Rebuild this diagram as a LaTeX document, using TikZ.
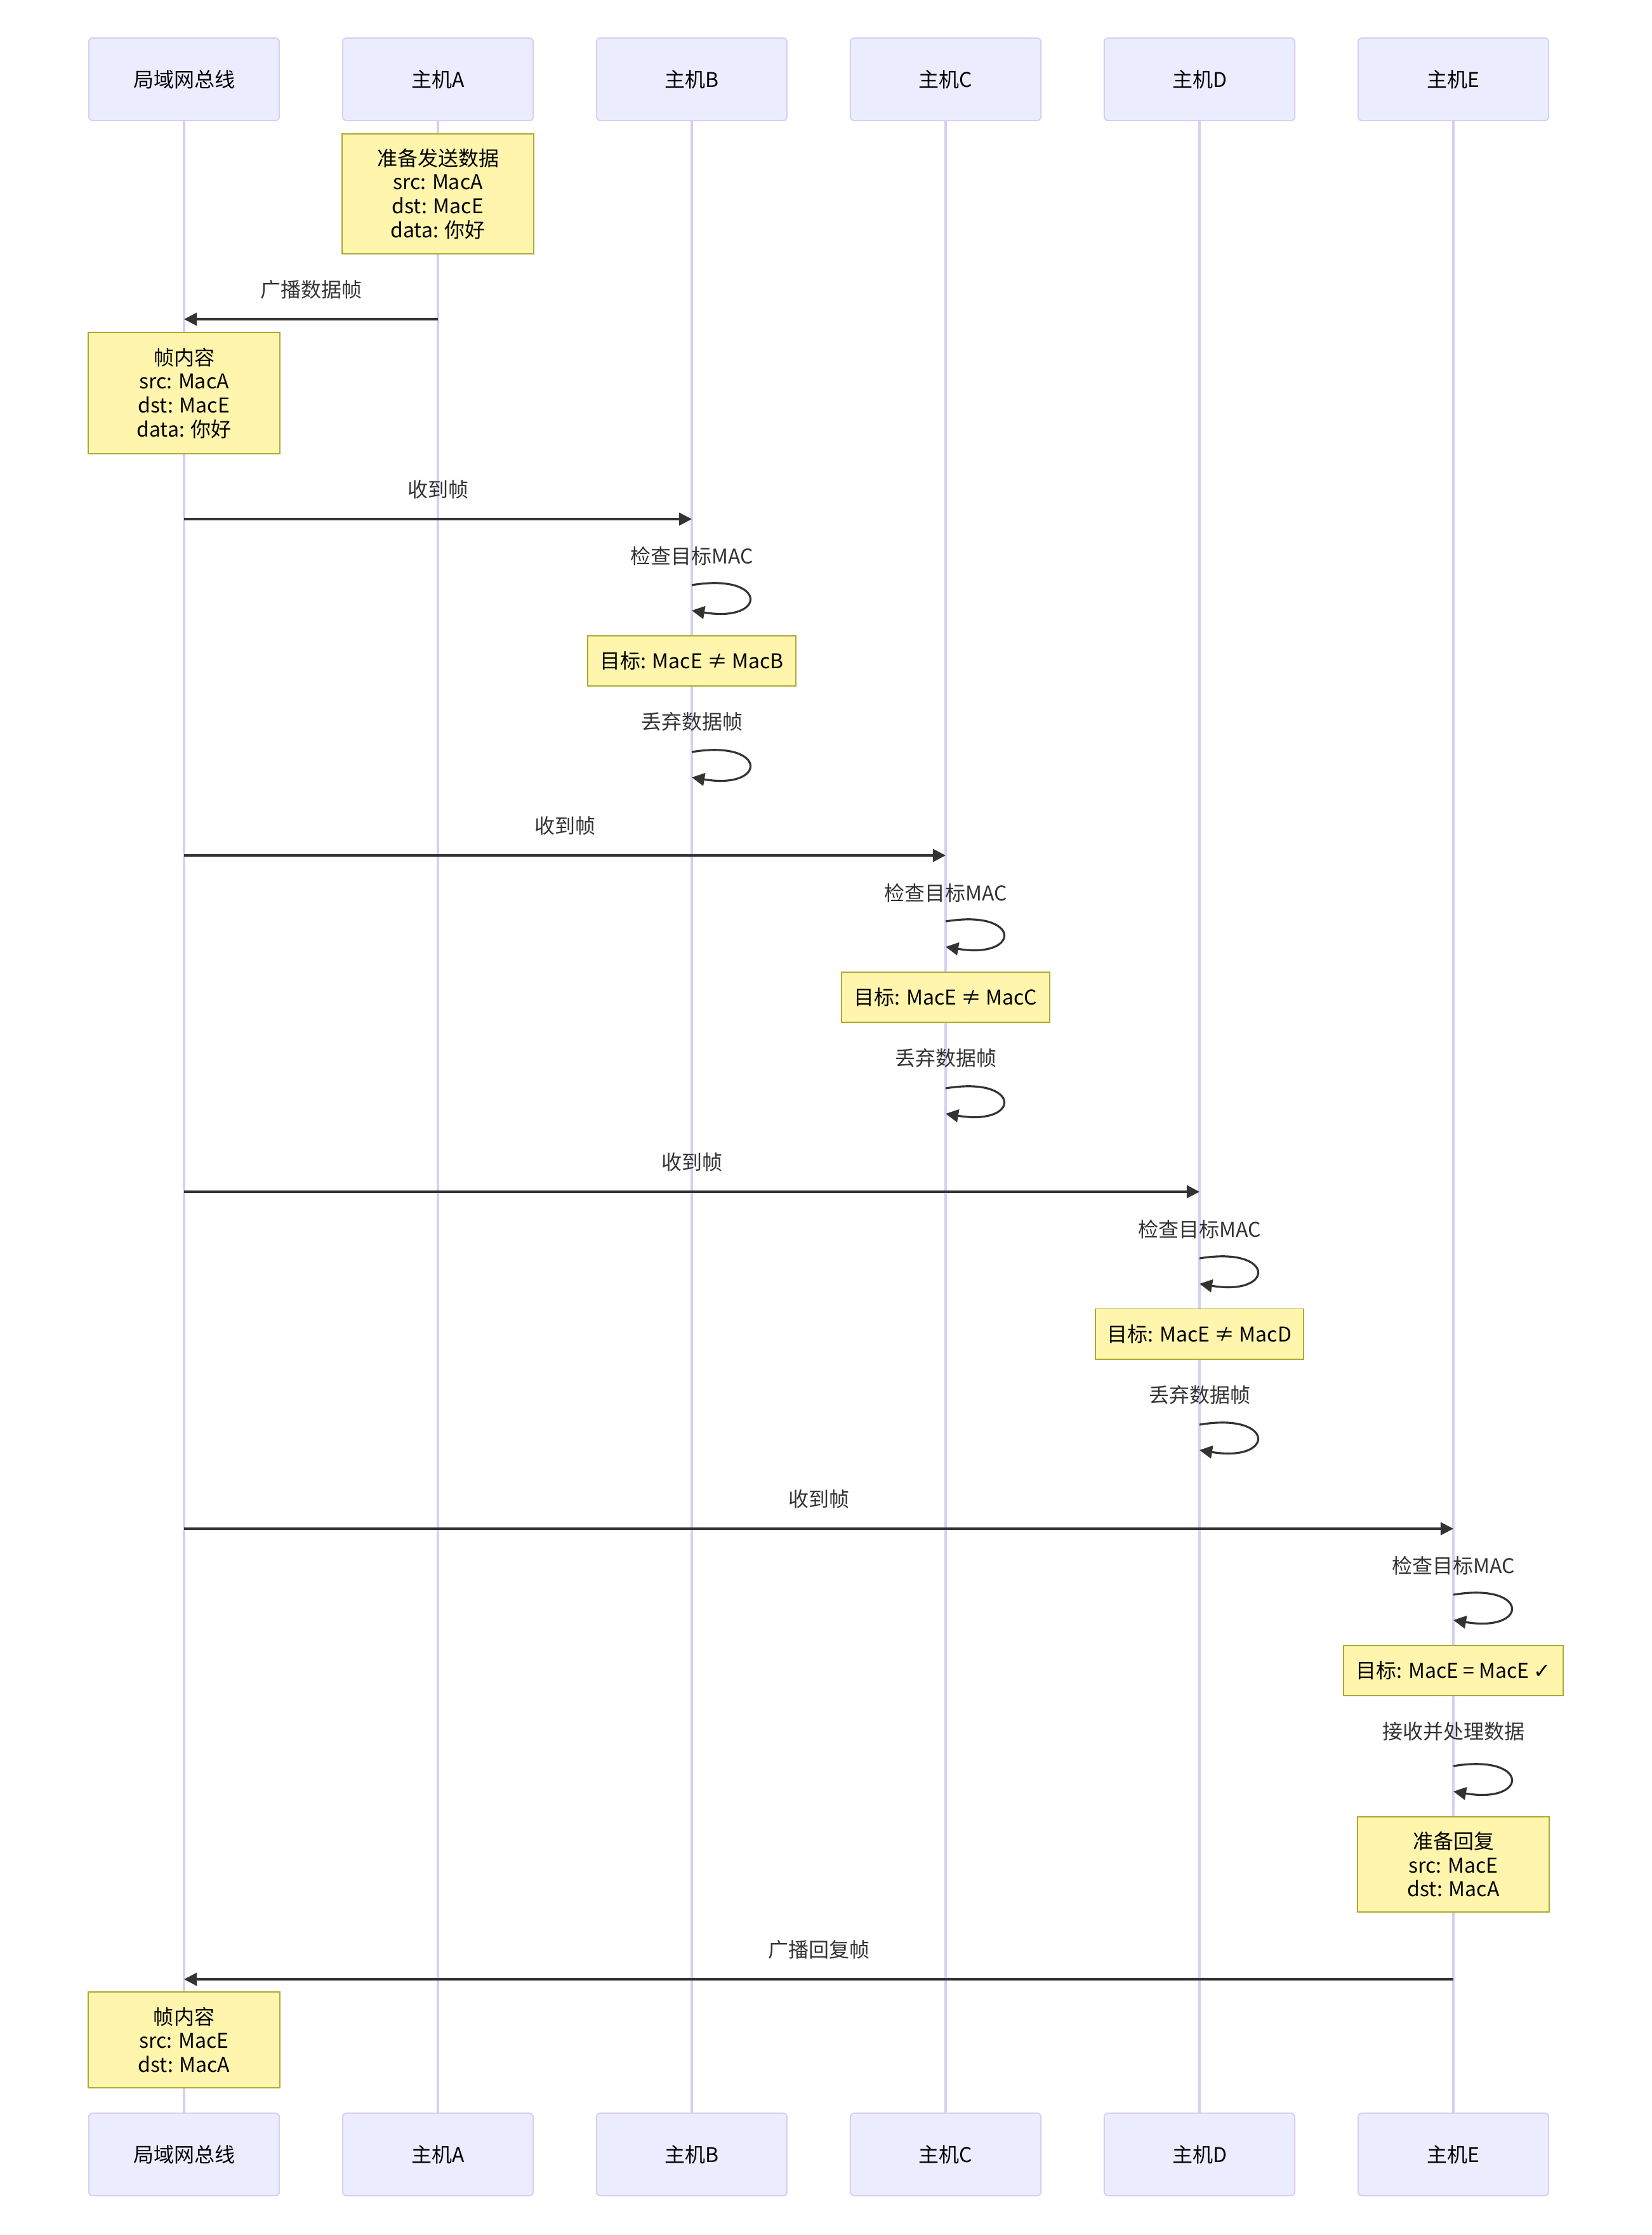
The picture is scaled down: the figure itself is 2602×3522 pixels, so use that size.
\documentclass[tikz,border=0pt]{standalone}
\usepackage{fontspec}
\setmainfont{Noto Sans CJK SC}
\newfontfamily\symfont{DejaVu Sans}
\usetikzlibrary{arrows.meta,calc}

\definecolor{actorfill}{HTML}{ECECFF}
\definecolor{actorline}{HTML}{D8CEF2}
\definecolor{notefill}{HTML}{FFF5AD}
\definecolor{noteline}{HTML}{AAAA33}
\definecolor{msgline}{HTML}{333333}
\newcommand{\dgfont}{\fontsize{9.1pt}{10.7pt}\selectfont}

\begin{document}
\begin{tikzpicture}[x=0.01cm,y=-0.01cm,
  actor/.style={draw=actorline,fill=actorfill,line width=0.55pt,rounded corners=1.7pt,
    minimum width=3cm,minimum height=1.3cm,inner sep=0pt,font=\dgfont},
  life/.style={draw=actorline,line width=0.9pt},
  note/.style={draw=noteline,fill=notefill,line width=0.55pt,inner sep=0pt,align=center,font=\dgfont},
  msg/.style={draw=msgline,line width=0.9pt,-{Triangle[length=5.7pt,width=5.7pt]}},
  msgtxt/.style={inner sep=0pt,text=msgline,font=\dgfont}]
  \useasboundingbox (0,0) rectangle (2602,3522);
  % 参与者（上）
  \node[actor] (busTop) at (290,125) {局域网总线};
  \node[actor] (aTop) at (690,125) {主机A};
  \node[actor] (bTop) at (1090,125) {主机B};
  \node[actor] (cTop) at (1490,125) {主机C};
  \node[actor] (dTop) at (1890,125) {主机D};
  \node[actor] (eTop) at (2290,125) {主机E};
  % 参与者（下）
  \node[actor] (busBot) at (290,3395) {局域网总线};
  \node[actor] (aBot) at (690,3395) {主机A};
  \node[actor] (bBot) at (1090,3395) {主机B};
  \node[actor] (cBot) at (1490,3395) {主机C};
  \node[actor] (dBot) at (1890,3395) {主机D};
  \node[actor] (eBot) at (2290,3395) {主机E};
  % 生命线
  \draw[life] (busTop.south) -- (busBot.north);
  \draw[life] (aTop.south) -- (aBot.north);
  \draw[life] (bTop.south) -- (bBot.north);
  \draw[life] (cTop.south) -- (cBot.north);
  \draw[life] (dTop.south) -- (dBot.north);
  \draw[life] (eTop.south) -- (eBot.north);

  % 主机A 发送
  \node[note,minimum width=3.01cm,minimum height=1.89cm] (n1) at (690,305.5)
    {准备发送数据\\src: MacA\\dst: MacE\\data: 你好};
  \coordinate (m1) at (0,503);
  \node[msgtxt] (t1) at (490,456) {广播数据帧};
  \draw[msg] (aTop |- m1) -- (busTop |- m1);
  \node[note,minimum width=3.01cm,minimum height=1.91cm] (n2) at (290,619.5)
    {帧内容\\src: MacA\\dst: MacE\\data: 你好};

  % 主机B
  \coordinate (m2) at (0,818);
  \node[msgtxt] (t2) at (690,771) {收到帧};
  \draw[msg] (busTop |- m2) -- (bTop |- m2);
  \coordinate (s1) at (0,922);
  \node[msgtxt] (t3) at (1090,876) {检查目标MAC};
  \draw[msg] (bTop |- s1) .. controls +(120,-20) and +(120,20) .. +(0,40);
  \node[note,minimum width=3.28cm,minimum height=0.79cm] (n3) at (1090,1041.5) {目标: MacE ≠ MacB};
  \coordinate (s2) at (0,1185);
  \node[msgtxt] (t4) at (1090,1137) {丢弃数据帧};
  \draw[msg] (bTop |- s2) .. controls +(120,-20) and +(120,20) .. +(0,40);

  % 主机C
  \coordinate (m3) at (0,1348);
  \node[msgtxt] (t5) at (890,1301) {收到帧};
  \draw[msg] (busTop |- m3) -- (cTop |- m3);
  \coordinate (s3) at (0,1452);
  \node[msgtxt] (t6) at (1490,1407) {检查目标MAC};
  \draw[msg] (cTop |- s3) .. controls +(120,-20) and +(120,20) .. +(0,40);
  \node[note,minimum width=3.28cm,minimum height=0.79cm] (n4) at (1490,1571.5) {目标: MacE ≠ MacC};
  \coordinate (s4) at (0,1715);
  \node[msgtxt] (t7) at (1490,1667) {丢弃数据帧};
  \draw[msg] (cTop |- s4) .. controls +(120,-20) and +(120,20) .. +(0,40);

  % 主机D
  \coordinate (m4) at (0,1878);
  \node[msgtxt] (t8) at (1090,1831) {收到帧};
  \draw[msg] (busTop |- m4) -- (dTop |- m4);
  \coordinate (s5) at (0,1983);
  \node[msgtxt] (t9) at (1890,1937) {检查目标MAC};
  \draw[msg] (dTop |- s5) .. controls +(120,-20) and +(120,20) .. +(0,40);
  \node[note,minimum width=3.28cm,minimum height=0.79cm] (n5) at (1890,2102) {目标: MacE ≠ MacD};
  \coordinate (s6) at (0,2245);
  \node[msgtxt] (t10) at (1890,2198) {丢弃数据帧};
  \draw[msg] (dTop |- s6) .. controls +(120,-20) and +(120,20) .. +(0,40);

  % 主机E
  \coordinate (m5) at (0,2409);
  \node[msgtxt] (t11) at (1290,2362) {收到帧};
  \draw[msg] (busTop |- m5) -- (eTop |- m5);
  \coordinate (s7) at (0,2513);
  \node[msgtxt] (t12) at (2290,2467) {检查目标MAC};
  \draw[msg] (eTop |- s7) .. controls +(120,-20) and +(120,20) .. +(0,40);
  \node[note,minimum width=3.46cm,minimum height=0.79cm] (n6) at (2290,2632.5)
    {目标: MacE = MacE {\symfont ✓}};
  \coordinate (s8) at (0,2783);
  \node[msgtxt] (t13) at (2290,2728) {接收并处理数据};
  \draw[msg] (eTop |- s8) .. controls +(120,-20) and +(120,20) .. +(0,40);
  \node[note,minimum width=3.01cm,minimum height=1.5cm] (n7) at (2290,2938)
    {准备回复\\src: MacE\\dst: MacA};

  % 回复
  \coordinate (m6) at (0,3119);
  \node[msgtxt] (t14) at (1290,3072) {广播回复帧};
  \draw[msg] (eTop |- m6) -- (busTop |- m6);
  \node[note,minimum width=3.01cm,minimum height=1.51cm] (n8) at (290,3214.5)
    {帧内容\\src: MacE\\dst: MacA};
\end{tikzpicture}
\end{document}
